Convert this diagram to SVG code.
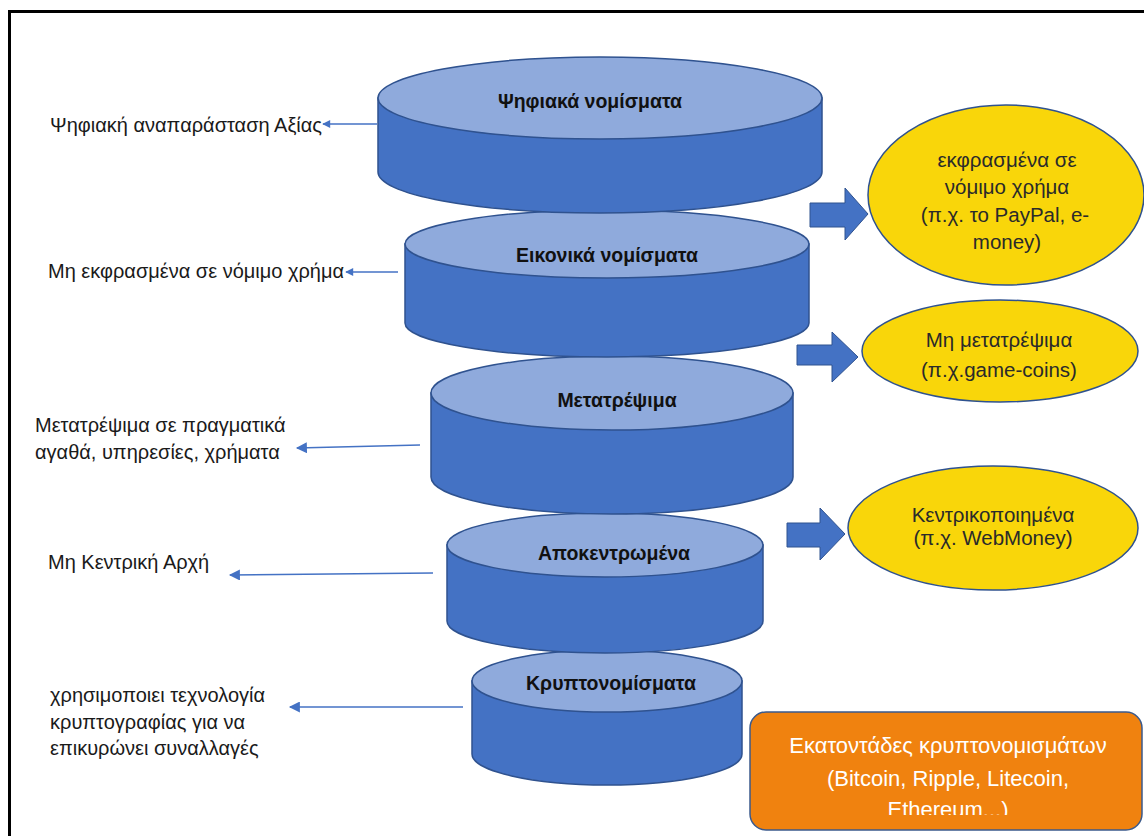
<svg xmlns="http://www.w3.org/2000/svg" width="1144" height="836" viewBox="0 0 1144 836">
<style>
.body{fill:#4472C4;stroke:#2F528F;stroke-width:1.5}
.top{fill:#8FAADC;stroke:#2F528F;stroke-width:1.5}
.ctext{font-family:"Liberation Sans",Arial,sans-serif;font-weight:bold;font-size:19.5px;fill:#111;text-anchor:middle}
.lbl{font-family:"Liberation Sans",Arial,sans-serif;font-size:20px;fill:#1a1a1a}
.conn{stroke:#4472C4;stroke-width:1.6;fill:none}
.block{fill:#4472C4;stroke:#2F528F;stroke-width:1}
.yel{fill:#F9D60A;stroke:#2F528F;stroke-width:1.5}
.ytext{font-family:"Liberation Sans",Arial,sans-serif;font-size:20.5px;fill:#2a2a2a;text-anchor:middle}
.otext{font-family:"Liberation Sans",Arial,sans-serif;font-size:22px;fill:#fff;text-anchor:middle}
</style>
<defs>
<marker id="ah" viewBox="0 0 10 10" refX="9" refY="5" markerWidth="10" markerHeight="8" markerUnits="userSpaceOnUse" orient="auto">
<path d="M0,0 L10,5 L0,10 Z" fill="#4472C4"/>
</marker>
<marker id="ahL" viewBox="0 0 10 10" refX="9" refY="5" markerWidth="16" markerHeight="11" markerUnits="userSpaceOnUse" orient="auto">
<path d="M0,0 L10,5 L0,10 Z" fill="#4472C4"/>
</marker>
<clipPath id="oclip"><rect x="750" y="712" width="394" height="103"/></clipPath>
</defs>
<rect x="0" y="0" width="1144" height="836" fill="#fff"/>
<path d="M9.5,836 V11.5 H1144" fill="none" stroke="#000" stroke-width="3"/>

<g id="cyl5">
<path class="body" d="M472,681 V754 A135,31 0 0 0 742,754 V681 Z"/>
<ellipse class="top" cx="607" cy="681" rx="135" ry="31"/>
<text class="ctext" x="611" y="690">Κρυπτονομίσματα</text>
</g>
<g id="cyl4">
<path class="body" d="M447,545 V621 A158,32 0 0 0 763,621 V545 Z"/>
<ellipse class="top" cx="605" cy="545" rx="158" ry="32"/>
<text class="ctext" x="614" y="560">Αποκεντρωμένα</text>
</g>
<g id="cyl3">
<path class="body" d="M431,393 V477 A181,37 0 0 0 793,477 V393 Z"/>
<ellipse class="top" cx="612" cy="393" rx="181" ry="37"/>
<text class="ctext" x="617" y="407">Μετατρέψιμα</text>
</g>
<g id="cyl2">
<path class="body" d="M405,244 V323 A202,34 0 0 0 809,323 V244 Z"/>
<ellipse class="top" cx="607" cy="244" rx="202" ry="34"/>
<text class="ctext" x="607" y="262">Εικονικά νομίσματα</text>
</g>
<g id="cyl1">
<path class="body" d="M378,98 V172 A222,41 0 0 0 822,172 V98 Z"/>
<ellipse class="top" cx="600" cy="98" rx="222" ry="41"/>
<text class="ctext" x="590" y="108">Ψηφιακά νομίσματα</text>
</g>

<g id="connectors">
<line class="conn" x1="377" y1="124" x2="323" y2="124" marker-end="url(#ah)"/>
<line class="conn" x1="398" y1="272" x2="346" y2="272" marker-end="url(#ah)"/>
<line class="conn" x1="420" y1="445" x2="297" y2="448" marker-end="url(#ahL)"/>
<line class="conn" x1="433" y1="573" x2="230" y2="575" marker-end="url(#ahL)"/>
<line class="conn" x1="463" y1="707" x2="290" y2="707" marker-end="url(#ahL)"/>
<polygon class="block" points="810,203 845,203 845,188 868,214 845,240 845,227 810,227"/>
<polygon class="block" points="797,345 832,345 832,332 858,357 832,382 832,365 797,365"/>
<polygon class="block" points="787,523 820,523 820,508 845,534 820,560 820,547 787,547"/>
</g>

<g id="lbl1"><text class="lbl" x="50" y="132">Ψηφιακή αναπαράσταση Αξίας</text></g>
<g id="lbl2"><text class="lbl" x="48" y="278">Μη εκφρασμένα σε νόμιμο χρήμα</text></g>
<g id="lbl3"><text class="lbl" x="35" y="432">Μετατρέψιμα σε πραγματικά</text><text class="lbl" x="35" y="459">αγαθά, υπηρεσίες, χρήματα</text></g>
<g id="lbl4"><text class="lbl" x="48" y="569">Μη Κεντρική Αρχή</text></g>
<g id="lbl5"><text class="lbl" x="50" y="702">χρησιμοποιει τεχνολογία</text><text class="lbl" x="50" y="729">κρυπτογραφίας για να</text><text class="lbl" x="50" y="755">επικυρώνει συναλλαγές</text></g>

<g id="ell1">
<ellipse class="yel" cx="1006" cy="195" rx="138" ry="90"/>
<text class="ytext" x="1007" y="167">εκφρασμένα σε</text>
<text class="ytext" x="1007" y="194">νόμιμο χρήμα</text>
<text class="ytext" x="1005" y="222">(π.χ. το PayPal, e-</text>
<text class="ytext" x="1007" y="249">money)</text>
</g>
<g id="ell2">
<ellipse class="yel" cx="1000" cy="351" rx="138" ry="51"/>
<text class="ytext" x="999" y="347">Μη μετατρέψιμα</text>
<text class="ytext" x="999" y="377">(π.χ.game-coins)</text>
</g>
<g id="ell3">
<ellipse class="yel" cx="993" cy="528" rx="145" ry="62"/>
<text class="ytext" x="993" y="522">Κεντρικοποιημένα</text>
<text class="ytext" x="993" y="545">(π.χ. WebMoney)</text>
</g>
<g id="box">
<rect x="750" y="712" width="392" height="118" rx="16" fill="#F0820F" stroke="#3B5A8C" stroke-width="1.5"/>
<g clip-path="url(#oclip)">
<text class="otext" x="948" y="753">Εκατοντάδες κρυπτονομισμάτων</text>
<text class="otext" x="948" y="786">(Bitcoin, Ripple, Litecoin,</text>
<text class="otext" x="948" y="817">Ethereum...)</text>
</g>
</g>
</svg>
